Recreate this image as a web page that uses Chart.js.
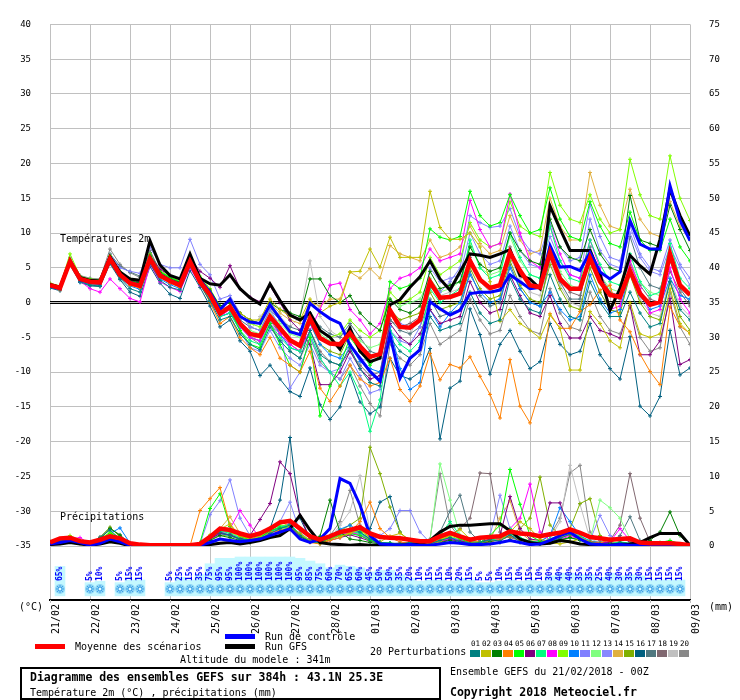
<!DOCTYPE html>
<html>
<head>
<meta charset="utf-8">
<script src="https://cdn.jsdelivr.net/npm/chart.js@4.4.1/dist/chart.umd.min.js"></script>
<style>
  body { margin: 0; background: #fff; }
  #wrap { position: relative; width: 740px; height: 700px; font-family: "DejaVu Sans Mono", monospace; color: #000; overflow: hidden; }
  #wrap canvas { position: absolute; left: 0; }
  .t { position: absolute; white-space: pre; font-size: 10px; line-height: 12px; }
  .b { font-weight: bold; font-size: 11.5px; line-height: 14px; }
  .ln { position: absolute; }
  #box { position: absolute; left: 20px; top: 667px; width: 421px; height: 33px; border: 2px solid #000; box-sizing: border-box; }
  .num { position: absolute; top: 639px; width: 11px; text-align: center; font-size: 7.5px; line-height: 9px; }
  .sw { position: absolute; top: 650px; width: 10px; height: 7px; }
</style>
</head>
<body>
<div id="wrap">
  <canvas id="main" width="740" height="700" style="top:0"></canvas>
  <canvas id="snow" width="740" height="94" style="top:546px"></canvas>

  <div class="t" style="left:60px;top:233px">Températures 2m</div>
  <div class="t" style="left:60px;top:511px">Précipitations</div>
  <div class="t" style="left:19px;top:601px">(°C)</div>
  <div class="t" style="left:709px;top:601px">(mm)</div>

  <div class="ln" style="left:225px;top:634px;width:30px;height:5px;background:#0000ff"></div>
  <div class="t" style="left:265px;top:631px">Run de contrôle</div>
  <div class="ln" style="left:35px;top:644px;width:30px;height:5px;background:#ff0000"></div>
  <div class="t" style="left:75px;top:641px">Moyenne des scénarios</div>
  <div class="ln" style="left:225px;top:644px;width:30px;height:5px;background:#000"></div>
  <div class="t" style="left:265px;top:641px">Run GFS</div>
  <div class="t" style="left:180px;top:654px">Altitude du modele : 341m</div>

  <div id="box"></div>
  <div class="t b" style="left:30px;top:670px">Diagramme des ensembles GEFS sur 384h : 43.1N 25.3E</div>
  <div class="t" style="left:30px;top:687px">Température 2m (°C) , précipitations (mm)</div>

  <div class="t" style="left:370px;top:646px">20 Perturbations</div>
  <div id="pertLegend"></div>
  <div class="t" style="left:450px;top:666px">Ensemble GEFS du 21/02/2018 - 00Z</div>
  <div class="t b" style="left:450px;top:685px">Copyright 2018 Meteociel.fr</div>
</div>

<script>
// time steps (6h) from 21/02 00Z to 09/03 00Z
const steps = [0,1,2,3,4,5,6,7,8,9,10,11,12,13,14,15,16,17,18,19,20,21,22,23,24,25,26,27,28,29,30,31,32,
  33,34,35,36,37,38,39,40,41,42,43,44,45,46,47,48,49,50,51,52,53,54,55,56,57,58,59,60,61,62,63,64];
const dayLabels = ["21/02","22/02","23/02","24/02","25/02","26/02","27/02","28/02","01/03",
  "02/03","03/03","04/03","05/03","06/03","07/03","08/03","09/03"];
const tempTicks = [-35,-30,-25,-20,-15,-10,-5,0,5,10,15,20,25,30,35,40];
const precipTicks = [0,5,10,15,20,25,30,35,40,45,50,55,60,65,70,75];
const pertNames = ["01","02","03","04","05","06","07","08","09","10","11","12","13","14","15","16","17","18","19","20"];
const pertColors = ["#008080","#c0c000","#008000","#ff8000","#00ff00","#800080","#00ff80","#ff00ff","#80ff00","#0080ff",
  "#8080ff","#80ff80","#8888ff","#e0b040","#80b000","#006080","#507880","#806870","#c0c0c0","#888888"];

// temperature 2m (°C)
const tempMean = [2.5,2.1,5.9,3.4,3.0,2.9,6.3,4.0,2.8,2.4,6.3,3.9,3.1,2.5,5.9,3.0,
  1.1,-1.6,-0.6,-3.0,-4.5,-4.8,-2.0,-3.7,-5.4,-6.2,-2.3,-5.1,-5.9,-6.0,-4.4,-6.3,-7.8,-7.4,-1.1,-3.5,-3.6,-2.5,
  3.0,0.7,0.8,1.3,6.0,3.3,2.1,2.5,7.2,4.6,2.5,2.2,7.2,3.4,2.0,2.0,6.4,3.0,1.1,0.8,4.6,1.3,-0.3,0.1,7.0,2.5,1.1];
const tempControl = [2.4,2.0,6.0,3.3,2.9,2.8,6.2,3.9,2.9,2.5,6.4,4.0,3.2,2.6,6.0,3.2,
  1.5,-1.0,0.5,-2.0,-2.8,-3.0,-0.3,-2.3,-4.2,-4.6,-0.1,-1.3,-2.3,-3.0,-6.1,-8.0,-9.9,-11.3,-4.7,-10.9,-8.0,-6.8,
  0.1,-0.9,-1.8,-1.1,1.3,1.5,1.5,1.8,4.0,3.0,2.0,2.2,8.2,5.1,5.2,4.6,7.2,4.4,3.4,4.4,11.8,8.4,7.7,7.7,16.8,11.8,8.9];
const tempGfs = [2.6,2.2,6.0,3.6,3.2,3.1,6.6,4.4,3.4,3.2,8.9,5.4,3.9,3.4,7.0,3.5,
  2.7,2.5,4.0,2.0,0.7,-0.2,2.7,0.3,-1.8,-2.5,-1.5,-4.0,-5.0,-6.7,-3.7,-7.0,-8.5,-8.0,-0.3,0.4,2.2,3.7,
  6.0,3.4,1.8,4.4,7.0,6.8,6.5,7.0,7.6,3.9,3.4,2.0,13.9,10.6,7.5,7.5,7.5,4.1,-1.1,2.0,6.8,5.3,4.1,9.1,16.3,12.5,9.6];

const t01 = [2.2,1.9,5.6,3.0,2.5,2.4,5.8,3.5,2.0,1.5,5.6,3.2,2.2,1.8,5.2,2.6,
  0.2,-2.5,-2.0,-4.5,-6.0,-6.8,-3.5,-5.5,-7.0,-8.0,-4.0,-7.5,-8.5,-9.0,-6.5,-9.5,-11.5,-12.0,-5.0,-7.0,-8.0,-6.5,
  -2.0,-4.0,-3.5,-3.0,1.5,-1.5,-3.0,-2.5,3.5,0.5,-1.0,-1.5,4.0,0.5,-2.0,-2.5,3.0,0.0,-2.0,-2.0,1.5,-1.5,-3.5,-3.0,3.0,-1.0,-2.5];
const t02 = [2.6,2.2,6.2,3.6,3.1,3.0,6.5,4.2,3.0,2.6,6.5,4.1,3.3,2.7,6.1,3.3,
  1.5,-0.8,0.5,-1.5,-2.5,-2.5,0.5,-1.0,-2.0,-2.5,0.5,-1.5,-0.5,0.0,4.4,4.5,7.7,5.1,9.4,6.5,6.5,6.5,
  16.0,10.8,9.1,9.1,10.0,8.0,3.0,-2.7,-1.0,-3.0,-4.0,-5.1,-1.8,-3.7,-9.7,-9.7,-1.3,-3.0,-5.5,-6.5,0.0,-4.5,-5.0,-4.5,2.0,-3.0,-4.5];
const t03 = [2.4,2.0,6.0,3.3,2.9,2.8,6.2,4.1,3.1,2.8,6.6,4.3,3.4,2.9,6.3,3.5,
  1.8,-0.5,0.0,-1.5,-2.5,-3.0,0.0,-1.0,-1.5,-2.0,3.4,3.4,1.0,0.0,1.0,-1.5,-3.0,-4.0,0.5,-1.0,-1.5,-0.5,
  4.5,2.0,2.5,3.0,8.0,5.5,4.5,5.0,10.0,7.5,6.0,5.5,12.0,8.0,6.5,6.0,10.5,7.0,5.0,4.5,15.4,9.0,8.5,8.0,14.0,10.5,7.5];
const t04 = [2.3,1.8,5.7,3.2,2.7,2.6,6.0,3.7,2.5,2.1,6.0,3.6,2.8,2.2,5.7,2.8,
  0.0,-3.0,-2.0,-5.0,-6.5,-7.5,-5.0,-8.0,-9.0,-10.0,-7.0,-12.3,-14.2,-12.0,-9.0,-11.0,-12.0,-11.5,-8.0,-12.5,-14.2,-12.0,
  -7.3,-11.1,-8.9,-9.4,-7.8,-10.6,-13.2,-16.6,-8.2,-14.9,-17.3,-12.5,-1.6,-3.7,-3.7,-1.3,-0.3,1.8,2.5,-2.5,-4.2,-7.4,-9.9,-11.8,-0.6,-3.4,-4.4];
const t05 = [2.5,2.2,6.1,3.5,3.2,3.1,6.6,4.3,3.2,2.8,6.8,4.4,3.6,3.0,6.6,3.6,
  1.5,-1.5,-1.0,-4.0,-6.0,-6.5,-3.0,-6.0,-9.0,-10.0,-5.0,-16.3,-12.0,-9.0,-5.0,-7.0,-9.0,-7.5,3.0,2.0,2.5,3.5,
  10.6,9.4,9.0,9.5,16.0,12.5,11.0,11.5,15.5,12.5,10.0,10.5,16.5,12.0,9.5,9.0,14.5,11.0,8.5,8.0,13.0,9.0,7.5,7.5,12.0,8.0,6.0];
const t06 = [2.7,2.3,6.0,3.5,3.1,3.0,6.4,4.2,3.3,2.9,6.8,4.8,3.9,3.3,6.5,4.5,
  3.5,2.2,5.3,2.0,0.8,0.1,2.4,0.0,-2.5,-4.0,-6.0,-11.8,-11.8,-10.0,-7.0,-9.5,-11.0,-10.5,-3.0,-5.0,-6.0,-4.5,
  -1.0,-3.0,-2.5,-2.0,3.0,0.0,-1.5,-1.0,4.0,1.0,-1.5,-2.0,1.0,-3.0,-5.1,-5.1,-2.0,-4.0,-4.5,-5.1,-0.4,-7.5,-7.5,-5.5,0.6,-8.9,-8.2];
const t07 = [2.3,2.0,5.8,3.3,2.8,2.8,6.1,3.8,2.6,2.2,6.1,3.7,2.9,2.3,5.6,2.8,
  0.5,-2.0,-1.5,-4.0,-5.5,-6.0,-3.0,-5.0,-6.5,-7.0,-4.5,-8.0,-10.0,-12.0,-10.0,-13.0,-18.5,-14.0,-4.0,-6.0,-7.0,-5.5,
  2.0,0.0,1.0,2.0,9.0,5.0,3.5,4.0,10.0,6.5,4.0,3.5,11.0,6.0,3.5,3.0,9.0,5.5,3.0,2.5,7.0,3.0,1.0,1.5,8.5,3.5,2.0];
const t08 = [2.4,2.0,5.7,3.1,2.0,1.5,3.4,2.0,0.6,0.1,5.5,3.0,2.2,1.6,5.0,2.5,
  0.5,-2.0,-1.0,-3.5,-5.0,-5.5,-3.0,-4.5,-6.0,-7.0,-4.0,-1.0,2.5,2.8,-1.0,-2.5,-4.5,-3.0,2.0,3.5,4.0,5.0,
  7.7,6.0,6.5,7.0,14.7,10.5,8.0,8.5,15.6,10.0,6.0,5.0,11.0,7.0,4.0,3.5,9.0,5.0,-1.0,-0.5,6.0,2.0,-1.5,-1.0,5.0,0.5,-1.5];
const t09 = [2.8,2.4,7.0,3.8,3.4,3.3,6.8,4.5,3.4,3.0,7.0,4.6,3.7,3.1,6.8,3.8,
  2.0,-0.5,0.0,-2.0,-3.0,-3.5,-0.5,-2.5,-4.0,-4.5,-2.0,-4.0,-5.0,-4.5,-2.5,-4.0,-5.0,-4.0,1.5,0.0,0.5,1.5,
  6.5,4.0,5.0,6.0,11.5,9.0,8.0,8.5,14.5,11.0,10.0,9.5,18.7,14.0,12.0,11.5,15.5,12.0,10.0,10.5,20.6,15.5,12.5,12.0,21.1,15.0,11.8];
const t10 = [2.2,1.8,5.5,3.0,2.6,2.5,6.0,3.6,2.4,1.9,5.8,3.4,2.6,2.0,5.5,2.7,
  0.3,-2.0,-1.5,-3.5,-5.0,-5.5,-2.0,-4.5,-6.5,-7.0,-3.0,-6.0,-7.5,-8.0,-6.0,-8.5,-9.5,-10.0,-3.5,-9.5,-12.5,-11.5,
  -1.0,-3.5,-1.5,0.0,4.0,1.5,0.0,0.5,5.0,2.0,0.0,-0.5,1.5,-1.0,-2.5,-2.0,4.0,0.5,-1.5,-1.0,4.5,1.0,-1.0,-0.5,3.5,1.0,0.5];
const t11 = [2.6,2.3,6.3,3.8,3.4,3.3,6.9,5.0,4.5,4.2,8.0,5.5,5.0,5.0,9.1,5.5,
  4.0,0.5,1.0,-1.5,-3.5,-4.0,-1.0,-3.5,-12.3,-10.0,-5.0,-8.0,-10.0,-11.0,-8.0,-10.5,-13.0,-12.5,-4.0,-5.5,-6.0,-3.5,
  3.0,1.5,3.0,5.0,12.5,11.5,10.8,11.0,13.5,9.5,7.5,7.0,11.5,8.0,6.0,6.5,14.1,9.5,6.5,6.0,11.0,7.0,5.0,4.5,9.0,5.5,3.5];
const t12 = [2.5,2.1,6.0,3.5,3.1,3.0,6.3,4.0,2.9,2.5,6.4,4.0,3.2,2.6,6.0,3.1,
  1.0,-1.5,-1.0,-3.0,-4.0,-4.5,-1.5,-3.0,-4.5,-5.0,-2.5,-4.5,-5.5,-6.0,-4.0,-5.5,-6.5,-6.0,0.5,-0.5,0.0,0.5,
  3.5,1.5,2.0,3.0,8.5,5.0,4.0,4.5,9.5,6.0,4.0,3.5,8.0,4.5,2.5,2.0,7.5,4.0,2.0,1.5,6.0,3.0,1.5,1.0,7.0,2.5,1.0];
const t13 = [2.4,2.0,5.9,3.3,2.9,2.8,6.2,3.9,2.7,2.3,6.2,3.8,3.0,2.4,5.8,3.1,
  0.5,-2.0,-1.5,-4.0,-6.5,-7.0,-4.0,-6.5,-8.0,-9.0,-6.0,-9.0,-10.0,-9.5,-6.0,-8.0,-8.5,-8.0,-1.5,-3.0,-3.5,-2.5,
  5.0,3.0,3.5,4.0,10.0,7.0,5.5,6.0,11.0,7.5,5.5,5.0,9.5,6.0,4.0,3.5,12.0,7.5,5.5,5.0,10.0,6.5,4.5,4.0,8.0,5.0,2.5];
const t14 = [2.6,2.2,6.1,3.6,3.2,3.1,6.5,4.3,3.2,2.8,6.6,4.2,3.4,2.8,6.2,3.4,
  1.5,-1.0,0.5,-1.5,-2.5,-3.0,0.0,-1.5,-2.5,-3.0,0.0,-0.5,0.5,0.5,4.4,3.5,4.9,3.5,8.2,7.0,6.5,6.0,
  9.0,6.5,7.0,8.0,11.0,8.5,7.0,7.5,12.5,9.0,7.0,7.5,15.0,11.0,9.0,9.0,18.7,14.0,11.0,10.5,16.3,12.0,10.0,9.5,14.5,11.0,9.0];
const t15 = [2.5,2.1,6.0,3.4,3.0,2.9,6.3,3.9,2.8,2.3,6.3,3.9,3.0,2.4,5.9,3.0,
  1.0,-1.5,-0.5,-3.0,-4.5,-5.0,-2.0,-4.0,-5.5,-6.0,-3.0,-6.0,-7.0,-7.5,-4.5,-7.0,-8.0,-7.5,-1.0,-2.5,-2.0,-1.5,
  1.5,-1.0,-0.5,0.0,5.0,2.0,0.5,1.0,6.0,2.5,0.5,0.0,5.5,2.0,-0.5,-1.0,5.0,1.5,-1.0,-1.5,4.0,0.0,-2.0,-2.5,3.0,-2.0,-4.0];
const t16 = [2.1,1.7,5.4,2.9,2.4,2.3,5.6,3.3,1.5,0.9,5.2,2.8,1.2,0.6,4.6,2.2,
  -0.5,-3.5,-2.5,-5.5,-7.0,-10.5,-9.0,-11.0,-12.8,-13.5,-9.4,-14.7,-16.8,-15.0,-10.3,-14.3,-16.0,-15.0,-8.0,-10.5,-11.0,-10.0,
  -6.6,-19.6,-12.3,-11.3,-0.9,-4.6,-10.3,-6.0,-4.0,-7.0,-9.5,-8.5,-3.0,-6.0,-7.5,-7.0,-3.0,-7.5,-9.5,-11.0,-4.9,-14.9,-16.3,-13.5,-4.0,-10.4,-9.4];
const t17 = [2.6,2.2,6.2,3.7,3.3,3.2,7.0,5.2,4.4,3.8,7.2,4.6,3.6,3.0,6.4,3.5,
  1.5,-1.0,-0.5,-2.5,-3.5,-4.0,-1.0,-2.5,-3.5,-4.0,-1.5,-3.5,-4.5,-5.0,-3.0,-5.0,-7.0,-7.5,-2.5,-4.0,-4.5,-3.5,
  0.5,-2.0,-1.5,-1.0,4.5,1.0,-0.5,0.0,5.5,2.0,0.0,-0.5,6.5,3.0,0.5,0.5,8.0,4.0,1.5,1.0,9.5,5.0,2.5,2.0,6.0,2.0,0.0];
const t18 = [2.5,2.1,6.0,3.5,3.0,2.9,6.4,4.1,2.9,2.5,6.5,4.0,3.2,2.6,6.0,3.1,
  1.0,-2.0,-1.5,-3.5,-5.0,-5.5,-2.5,-4.5,-6.0,-7.0,-4.0,-7.0,-8.5,-9.0,-7.0,-9.0,-10.5,-10.0,-2.5,-3.5,-3.0,-2.0,
  2.5,0.5,1.0,1.5,6.5,3.5,2.0,2.5,8.0,4.5,2.5,2.0,7.5,4.0,1.5,1.0,6.5,3.5,1.0,0.5,5.5,2.5,0.5,0.0,4.5,1.5,-0.5];
const t19 = [2.4,2.0,5.8,3.3,2.9,2.8,6.2,3.9,2.7,2.3,6.1,3.8,3.0,2.4,5.7,2.9,
  0.8,-1.5,-1.0,-3.0,-4.0,-2.0,-0.5,-2.0,-3.5,-2.0,6.0,-2.0,-4.0,-5.0,-3.5,-6.0,-7.5,-8.0,-1.5,-3.0,-4.5,-2.0,
  3.0,1.0,1.5,2.0,6.0,3.0,1.5,2.0,6.5,3.5,1.5,1.0,6.0,2.5,0.0,-0.5,5.0,1.5,-1.0,-1.5,4.0,0.5,-1.5,-2.0,3.5,-0.5,-2.0];
const t20 = [2.7,2.3,6.5,3.9,3.5,3.4,7.7,5.5,4.3,3.6,7.5,4.5,3.5,2.9,6.7,3.6,
  1.5,-1.5,-1.0,-3.5,-5.0,-6.0,-3.0,-5.5,-7.0,-8.0,-5.0,-8.5,-10.0,-11.0,-9.0,-12.0,-14.5,-16.3,-6.0,-8.0,-9.0,-7.5,
  -3.0,-6.0,-5.0,-4.0,0.5,-2.5,-4.5,-4.0,1.0,-2.0,-4.0,-4.5,2.0,-1.5,-3.5,-4.0,1.5,-2.0,-4.0,-4.5,-0.5,-5.0,-7.0,-6.5,1.5,-3.5,-6.0];

// precipitation (mm per 6h)
const precMean = [0.5,1.1,1.2,0.7,0.5,0.9,1.4,1.1,0.4,0.2,0.1,0.1,0.1,0.1,0.1,0.3,1.3,2.5,2.3,1.8,
  1.4,1.8,2.5,3.4,3.6,2.5,1.4,0.9,1.4,2.0,2.3,2.7,1.8,1.3,1.2,1.1,0.9,0.7,0.7,1.4,
  1.9,1.4,0.9,1.2,1.3,1.4,2.1,1.8,1.7,1.4,1.7,1.9,2.4,1.9,1.3,1.1,0.9,1.0,1.1,0.5,0.4,0.4,0.4,0.3,0.1];
const precControl = [0.3,0.5,0.8,0.5,0.1,0.4,1.0,0.6,0.1,0,0,0,0,0,0,0.1,0.5,1.0,0.8,0.6,
  0.8,1.0,1.5,2.0,2.5,1.0,0.5,1.0,2.5,9.7,9.0,5.9,1.5,0.3,0.2,0.1,0.2,0.1,0.1,0.3,
  0.5,0.4,0.2,0.2,0.3,0.5,0.8,0.5,0.2,0.3,0.8,1.5,2.0,1.0,0.3,0.2,0.1,0.2,0.1,0.1,0,0,0.1,0,0];
const precGfs = [0.2,0.3,0.5,0.3,0.1,0.3,0.6,0.4,0,0,0,0,0,0,0,0,0.2,0.4,0.5,0.3,
  0.5,0.8,1.2,1.5,2.5,4.4,2.3,0.5,0.3,0.2,0.1,0.2,0.1,0.1,0.1,0.1,0.2,0.3,0.8,2.0,
  2.8,3.0,3.0,3.1,3.2,3.2,2.2,1.0,0.5,0.3,0.4,0.8,0.6,0.3,0.2,0.1,0.1,0.2,0.3,0.5,1.2,1.8,1.8,1.8,0.1];

const p01 = [0.6,0.8,1.0,0.4,0.2,1.2,2.3,1.0,0.2,0.1,0,0,0,0,0,0.2,1.2,2.0,1.5,1.0,
  0.8,1.0,1.8,2.5,3.0,1.5,0.6,0.5,1.2,1.8,2.5,2.0,1.0,0.5,0.4,0.3,0.5,0.2,0.3,0.8,
  1.2,0.6,0.4,0.5,0.9,0.7,1.6,0.6,0.3,0.2,0.6,1.1,1.7,1.0,0.5,0.3,0.2,0.5,0.3,0.2,0.1,0.1,0.2,0.1,0];
const p02 = [0.4,1.0,1.3,0.8,0.3,0.7,1.6,0.8,0.2,0,0,0,0,0,0,0.3,1.6,2.4,3.2,1.4,
  1.0,1.4,2.6,3.5,2.8,1.8,0.8,0.4,1.0,1.4,1.8,2.4,1.2,0.6,1.4,1.8,0.9,0.3,0.2,0.6,
  1.5,2.4,1.0,0.5,0.3,0.6,2.0,3.5,2.5,1.0,0.5,0.3,0.6,1.0,0.5,0.3,0.2,0.1,0.3,0.5,0.2,0.1,0.1,0.1,0];
const p03 = [0.5,0.7,1.1,0.6,0.3,1.0,2.5,1.6,0.3,0,0,0,0,0,0,0.1,0.8,1.5,1.2,0.8,
  0.5,0.9,1.4,2.0,2.4,1.3,0.7,1.4,6.6,2.0,1.0,0.8,0.5,0.3,0.2,0.2,0.3,0.1,0.2,0.5,
  0.8,0.5,0.3,0.4,0.6,0.5,0.9,0.5,0.3,0.4,0.7,0.9,1.2,0.8,0.4,0.2,0.3,0.4,0.2,0.3,0.8,2.0,4.9,1.5,0];
const p04 = [0.4,0.6,0.8,0.5,0.2,0.6,1.4,0.9,0.1,0,0,0,0,0,0,5.1,6.8,8.4,3.0,1.5,
  1.2,1.0,2.0,2.2,2.6,1.6,0.5,0.3,0.8,1.2,2.0,3.5,6.3,2.5,1.2,0.6,0.4,0.3,0.4,1.0,
  1.6,1.2,0.6,0.4,0.7,0.9,1.4,0.8,0.5,0.4,0.8,1.3,1.6,1.2,0.6,0.4,1.0,1.0,0.8,0.4,0.2,0.2,0.3,0.1,0];
const p05 = [0.5,0.9,1.2,0.7,0.3,0.9,1.8,1.2,0.2,0,0,0,0,0,0,0.5,5.4,7.5,2.8,1.4,
  0.9,1.2,2.2,2.6,2.8,1.5,0.6,0.4,1.0,1.5,1.8,1.5,0.8,0.4,0.3,0.2,0.3,0.2,0.3,1.0,
  1.8,1.0,0.5,0.5,1.5,3.0,11.0,6.0,1.5,0.7,0.5,0.8,1.2,0.9,0.4,0.3,0.2,0.4,0.3,0.2,0.2,0.5,0.8,0.3,0];
const p06 = [0.3,0.6,0.9,0.5,0.2,0.7,1.5,1.0,0.1,0,0,0,0,0,0,0.2,1.0,1.8,1.6,1.0,
  1.5,3.8,6.1,12.1,10.4,4.4,1.0,0.5,0.8,1.2,1.6,1.2,0.7,0.4,0.3,0.4,0.5,0.3,0.2,0.6,
  0.9,0.7,0.5,0.6,1.0,1.5,7.1,2.5,1.0,0.8,6.2,6.2,2.0,1.0,0.6,0.4,0.5,1.2,0.6,0.3,0.2,0.1,0.2,0.1,0];
const p07 = [0.5,0.8,1.0,0.6,0.2,0.8,1.7,1.1,0.2,0,0,0,0,0,0,0.3,1.3,2.2,1.8,1.2,
  0.8,1.1,2.0,2.8,3.0,1.8,0.8,0.5,1.1,1.7,2.2,1.8,1.0,0.5,0.4,0.3,0.4,0.2,0.4,1.5,
  3.5,1.5,0.6,0.5,0.8,1.2,2.5,1.2,0.7,0.5,1.0,1.6,2.2,1.4,0.6,0.4,0.3,0.6,0.4,0.2,0.1,0.2,0.3,0.1,0];
const p08 = [0.4,0.7,1.0,1.2,0.3,0.8,1.5,1.0,0.2,0,0,0,0,0,0,0.2,1.0,1.8,2.5,5.1,
  3.0,1.2,1.6,2.2,2.4,1.4,0.6,0.4,0.9,1.6,2.0,1.6,0.9,0.4,0.3,0.3,0.4,0.2,0.3,0.7,
  1.0,0.8,0.5,0.4,0.6,1.0,2.5,4.0,8.9,2.0,0.8,1.0,1.4,1.0,0.5,0.4,0.6,2.5,0.8,0.3,0.2,0.1,0.2,0.1,0];
const p09 = [0.6,1.0,1.5,0.8,0.4,1.0,2.0,1.2,0.3,0.1,0,0,0,0,0,0.3,1.4,2.2,2.0,1.3,
  0.9,1.3,2.3,3.0,2.9,1.7,0.7,0.5,1.2,1.9,2.4,2.2,1.2,0.5,0.4,0.3,0.5,0.3,0.3,0.9,
  1.4,1.0,0.6,0.5,0.8,1.0,1.8,1.0,0.6,0.5,0.9,1.4,1.9,1.3,0.6,0.4,0.3,0.5,0.3,0.2,0.1,0.1,0.2,0.1,0];
const p10 = [0.5,0.7,1.0,0.6,0.3,1.0,1.8,2.6,0.4,0.1,0,0,0,0,0,0.2,1.1,1.8,1.5,1.0,
  0.8,1.2,2.1,2.7,3.2,1.6,0.7,0.5,1.4,2.4,3.0,2.0,1.0,0.5,0.3,0.3,0.4,0.2,0.4,0.8,
  1.2,0.8,0.5,0.4,0.7,1.0,1.6,0.9,0.5,0.6,1.5,5.5,3.5,1.5,0.7,0.4,0.3,0.5,0.3,0.2,0.1,0.1,0.2,0.1,0];
const p11 = [0.4,0.8,1.0,0.6,0.3,0.8,1.6,1.0,0.2,0,0,0,0,0,0,0.3,4.5,6.5,9.5,4.0,
  1.5,1.3,2.0,2.6,2.8,1.5,0.6,0.4,1.0,1.5,1.8,1.5,0.8,1.5,2.5,5.1,5.1,2.0,0.5,0.8,
  1.2,0.9,0.5,0.5,0.8,1.0,1.6,1.0,0.6,0.5,0.9,1.2,1.6,1.2,0.6,0.4,0.3,0.5,0.3,0.2,0.1,0.1,0.2,0.1,0];
const p12 = [0.5,0.8,1.1,0.7,0.3,0.9,1.7,1.1,0.2,0,0,0,0,0,0,0.2,1.0,1.7,1.5,1.0,
  0.7,1.1,1.9,2.5,2.7,1.5,0.6,0.4,1.0,1.6,2.0,1.7,0.9,0.5,0.3,0.3,0.4,0.2,0.8,11.8,
  6.6,1.5,0.6,0.5,0.7,1.0,1.5,0.9,0.5,0.5,0.9,1.3,1.8,1.2,0.8,6.6,5.5,4.0,1.0,0.3,0.1,0.1,0.2,0.1,0];
const p13 = [0.4,0.7,1.0,0.6,0.2,0.8,1.5,1.0,0.2,0,0,0,0,0,0,0.3,1.2,2.0,1.8,1.1,
  0.8,1.2,2.2,3.5,6.3,2.0,0.7,0.5,1.1,1.7,2.1,1.8,0.9,0.5,0.3,0.3,0.4,0.2,0.3,0.8,
  1.2,0.9,0.5,0.5,1.5,7.3,2.5,1.0,0.6,0.5,0.9,1.3,1.7,1.2,0.8,4.4,1.5,0.5,0.3,0.2,0.1,0.1,0.2,0.1,0];
const p14 = [0.4,0.7,0.9,0.6,0.3,0.9,1.6,1.0,0.2,0,0,0,0,0,0,0.2,1.2,2.5,4.2,1.8,
  1.0,1.2,2.0,2.6,2.6,1.5,0.6,0.4,1.0,1.5,1.9,1.6,0.9,0.4,0.3,0.3,0.4,0.2,0.3,0.7,
  1.1,0.8,0.5,0.4,0.8,4.0,6.5,2.0,0.8,0.6,1.0,1.2,1.6,1.1,0.6,0.4,0.3,0.5,0.3,0.2,0.1,0.1,0.2,0.1,0];
const p15 = [0.5,0.8,1.2,0.6,0.3,1.2,2.7,1.3,0.2,0,0,0,0,0,0,0.2,0.9,1.6,1.4,1.0,
  0.7,1.0,1.8,2.4,2.6,1.4,0.6,0.4,1.2,2.2,3.0,4.0,14.2,10.4,5.6,2.0,0.6,0.3,0.3,0.8,
  1.2,0.9,0.5,0.4,0.7,0.9,1.5,2.5,4.0,9.9,3.0,1.5,2.5,6.1,6.8,1.5,0.5,0.4,0.3,0.2,0.1,0.1,0.2,0.1,0];
const p16 = [0.4,0.7,1.0,0.6,0.3,0.9,1.6,1.0,0.2,0,0,0,0,0,0,0.2,1.0,1.8,1.6,1.1,
  0.9,1.5,2.5,6.6,15.6,4.0,1.0,0.5,1.0,1.6,2.0,1.8,2.5,6.3,7.1,2.0,0.6,0.3,0.4,0.8,
  1.2,0.8,0.5,0.4,0.7,0.9,1.4,0.9,0.5,0.5,0.8,1.2,1.6,1.1,0.6,0.4,0.3,0.5,0.3,0.2,0.1,0.1,0.2,0.1,0];
const p17 = [0.5,0.9,1.3,0.7,0.3,1.3,2.6,1.5,0.3,0.1,0,0,0,0,0,0.2,1.0,1.8,1.6,1.1,
  0.8,1.2,2.1,2.8,3.0,1.7,0.7,0.5,1.2,1.8,2.2,1.9,1.0,0.5,0.4,0.4,0.5,0.3,0.5,2.0,
  5.0,7.3,2.0,0.6,0.8,1.0,1.5,1.0,0.6,0.5,0.9,1.3,1.8,1.3,0.7,0.5,0.5,1.5,4.2,0.8,0.2,0.1,0.2,0.1,0];
const p18 = [0.5,0.8,1.1,0.6,0.3,0.9,1.7,1.1,0.2,0,0,0,0,0,0,0.2,1.0,1.7,1.5,1.0,
  0.7,1.1,1.9,2.5,2.7,1.5,0.6,0.4,1.0,1.6,2.0,1.7,0.9,0.5,0.3,0.3,0.4,0.2,0.3,0.8,
  1.5,2.5,4.0,10.5,10.4,2.0,1.2,0.8,0.5,0.5,0.9,1.3,1.8,1.2,0.6,0.5,0.8,3.0,10.4,4.0,0.6,0.2,0.2,0.1,0];
const p19 = [0.4,0.7,1.0,0.6,0.2,0.8,1.5,1.0,0.2,0,0,0,0,0,0,0.2,1.0,1.8,1.6,1.0,
  0.8,1.2,2.0,2.6,2.8,1.5,0.6,0.4,1.0,3.0,5.0,10.1,2.0,0.5,0.3,0.3,0.4,0.2,0.3,0.8,
  1.2,0.9,0.5,0.5,0.8,1.0,1.5,0.9,0.5,0.5,1.0,3.5,11.6,6.0,1.0,0.5,0.3,0.5,0.3,0.2,0.1,0.1,0.2,0.1,0];
const p20 = [0.5,0.8,1.1,0.6,0.3,0.9,1.7,1.1,0.2,0,0,0,0,0,0,0.2,1.1,1.9,1.6,1.1,
  0.8,1.2,2.1,2.7,2.9,1.6,0.7,0.5,1.5,3.5,8.0,3.0,1.0,0.5,0.4,0.3,0.4,0.3,1.0,10.4,
  3.0,1.2,0.6,0.5,0.8,1.0,1.5,0.9,0.6,0.7,1.5,4.0,10.5,11.6,2.0,0.6,0.4,0.5,0.3,0.2,0.1,0.1,0.2,0.1,0];

// probability of snow (%) per step, 0 = no label
const snowPct = [0,65,0,0,5,10,0,5,15,15,0,0,5,25,15,35,75,95,95,100,100,100,100,100,100,95,85,75,60,70,
  65,60,45,50,50,35,20,10,15,15,10,20,15,5,5,10,15,10,15,10,30,40,40,35,35,25,40,30,35,30,15,15,15,15,0];

const tempPert = [t01,t02,t03,t04,t05,t06,t07,t08,t09,t10,t11,t12,t13,t14,t15,t16,t17,t18,t19,t20];
const precPert = [p01,p02,p03,p04,p05,p06,p07,p08,p09,p10,p11,p12,p13,p14,p15,p16,p17,p18,p19,p20];

Chart.defaults.font.family = "DejaVu Sans Mono";
Chart.defaults.color = "#000";

function pts(arr) {
  return arr.map((v, i) => ({ x: steps[i], y: v }));
}

// legend swatches for the 20 perturbations
const pl = document.getElementById("pertLegend");
pertNames.forEach((n, k) => {
  const d = document.createElement("div");
  d.className = "num";
  d.style.left = (470 + 11 * k) + "px";
  d.textContent = n;
  pl.appendChild(d);
  const s = document.createElement("div");
  s.className = "sw";
  s.style.left = (470 + 11 * k) + "px";
  s.style.background = pertColors[k];
  pl.appendChild(s);
});

// build datasets
const datasets = [];
function addLine(arr, axis, color, width, order, marks) {
  datasets.push({
    data: pts(arr),
    yAxisID: axis,
    borderColor: color,
    backgroundColor: color,
    borderWidth: width,
    pointStyle: "cross",
    pointRadius: marks ? 2 : 0,
    pointBorderWidth: 1,
    pointBorderColor: color,
    order: order,
    tension: 0,
    fill: false
  });
}
addLine(tempMean, "y", "#ff0000", 4.5, 0, false);
addLine(precMean, "y2", "#ff0000", 4.5, 0, false);
addLine(tempControl, "y", "#0000ff", 3, 1, false);
addLine(precControl, "y2", "#0000ff", 3, 1, false);
addLine(tempGfs, "y", "#000000", 3, 2, false);
addLine(precGfs, "y2", "#000000", 3, 2, false);
for (let k = 0; k < 20; k++) {
  addLine(tempPert[k], "y", pertColors[k], 1, 10 + k, true);
  addLine(precPert[k], "y2", pertColors[k], 1, 10 + k, true);
}

// double black line on 0 °C
const zeroLine = {
  id: "zeroLine",
  beforeDatasetsDraw(chart) {
    const a = chart.chartArea;
    const y0 = Math.round(chart.scales.y.getPixelForValue(0));
    const ctx = chart.ctx;
    ctx.save();
    ctx.fillStyle = "#000";
    ctx.fillRect(a.left, y0 - 2, a.right - a.left, 1);
    ctx.fillRect(a.left, y0, a.right - a.left, 1);
    ctx.restore();
  }
};

new Chart(document.getElementById("main").getContext("2d"), {
  type: "line",
  data: { datasets: datasets },
  options: {
    responsive: false,
    animation: false,
    devicePixelRatio: 1,
    layout: { padding: { top: 21, bottom: 154, left: 0, right: 0 } },
    plugins: { legend: { display: false }, tooltip: { enabled: false } },
    scales: {
      x: {
        type: "linear", min: 0, max: 64,
        ticks: { display: false, stepSize: 4 },
        grid: { color: "#c0c0c0", lineWidth: 1, drawTicks: false },
        border: { display: false },
        afterFit: s => { s.height = 0; }
      },
      y: {
        position: "left", min: -35, max: 40,
        afterBuildTicks: s => { s.ticks = tempTicks.map(v => ({ value: v })); },
        ticks: { font: { size: 9 }, padding: 19 },
        grid: { color: "#c0c0c0", lineWidth: 1, drawTicks: false },
        border: { display: false },
        afterFit: s => { s.width = 50; }
      },
      y2: {
        position: "right", min: 0, max: 75,
        afterBuildTicks: s => { s.ticks = precipTicks.map(v => ({ value: v })); },
        ticks: { font: { size: 9 }, padding: 19 },
        grid: { display: false, drawTicks: false },
        border: { display: false },
        afterFit: s => { s.width = 50; }
      }
    }
  },
  plugins: [zeroLine]
});

// snow probability strip + date labels
const snowData = [];
snowPct.forEach((v, i) => { if (v > 0) snowData.push({ x: steps[i], y: v }); });

const snowDecor = {
  id: "snowDecor",
  afterDatasetsDraw(chart) {
    const ctx = chart.ctx;
    const ys = chart.scales.y;
    const xs = chart.scales.x;
    const els = chart.getDatasetMeta(0).data;
    ctx.save();
    // snowflakes
    const fy = ys.getPixelForValue(-18.5);
    els.forEach(el => {
      const x = el.x;
      ctx.fillStyle = "#8fd6f6";
      ctx.beginPath();
      ctx.arc(x, fy, 5, 0, Math.PI * 2);
      ctx.fill();
      ctx.strokeStyle = "#3d9fe6";
      ctx.lineWidth = 1;
      ctx.beginPath();
      ctx.moveTo(x - 4, fy); ctx.lineTo(x + 4, fy);
      ctx.moveTo(x, fy - 4); ctx.lineTo(x, fy + 4);
      ctx.moveTo(x - 3, fy - 3); ctx.lineTo(x + 3, fy + 3);
      ctx.moveTo(x - 3, fy + 3); ctx.lineTo(x + 3, fy - 3);
      ctx.stroke();
      ctx.fillStyle = "#e8fbff";
      ctx.fillRect(x - 1, fy - 1, 2, 2);
    });
    // percentage labels
    const ly = ys.getPixelForValue(11);
    ctx.fillStyle = "#0000ff";
    ctx.font = "bold 8px 'DejaVu Sans Mono'";
    ctx.textAlign = "left";
    ctx.textBaseline = "middle";
    els.forEach((el, j) => {
      ctx.save();
      ctx.translate(el.x, ly);
      ctx.rotate(-Math.PI / 2);
      ctx.fillText(snowData[j].y + "%", 0, 0);
      ctx.restore();
    });
    // date labels under the axis
    const by = chart.chartArea.bottom;
    ctx.font = "10px 'DejaVu Sans Mono'";
    ctx.textAlign = "right";
    dayLabels.forEach((lab, k) => {
      const x = xs.getPixelForValue(4 * k);
      ctx.fillStyle = "#c0c0c0";
      ctx.fillRect(Math.round(x), by, 1, 3);
      ctx.fillStyle = "#000";
      ctx.save();
      ctx.translate(x + 6, by + 4);
      ctx.rotate(-Math.PI / 2);
      ctx.fillText(lab, 0, 0);
      ctx.restore();
    });
    ctx.restore();
  }
};

new Chart(document.getElementById("snow").getContext("2d"), {
  type: "bar",
  data: {
    datasets: [{
      data: snowData,
      backgroundColor: "#c4f8ff",
      borderWidth: 0,
      barPercentage: 1,
      categoryPercentage: 1,
      base: -44
    }]
  },
  options: {
    responsive: false,
    animation: false,
    devicePixelRatio: 1,
    layout: { padding: { top: 0, bottom: 40, left: 50, right: 50 } },
    plugins: { legend: { display: false }, tooltip: { enabled: false } },
    scales: {
      x: {
        type: "linear", min: 0, max: 64, offset: false,
        ticks: { display: false, stepSize: 4 },
        grid: { color: "#c0c0c0", lineWidth: 1, drawTicks: false, offset: false },
        border: { display: true, color: "#000", width: 2 },
        afterFit: s => { s.height = 0; }
      },
      y: { display: false, min: -59.3, max: 140.7 }
    }
  },
  plugins: [snowDecor]
});
</script>
</body>
</html>
